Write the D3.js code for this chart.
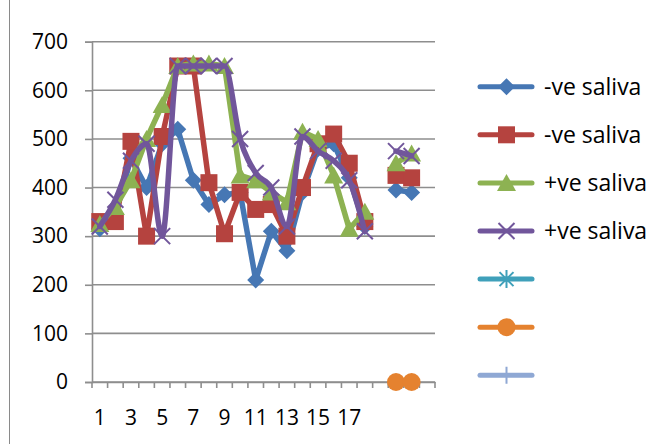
<!DOCTYPE html>
<html>
<head>
<meta charset="utf-8">
<script src="https://cdn.jsdelivr.net/npm/d3@7"></script>
<style>
  html, body { margin: 0; padding: 0; background: #fff; }
  svg { display: block; }
  text { font-family: "Open Sans", "Noto Sans", sans-serif; fill: #000; }
</style>
</head>
<body>
<svg id="chart" width="671" height="444"></svg>
<script>
// Category labels (19–22 carry no label)
const categories = ["1","2","3","4","5","6","7","8","9","10","11","12","13","14","15","16","17","18","","","",""];
const yTicks = [0, 100, 200, 300, 400, 500, 600, 700];

// Series values, one entry per category (null = no reading)
const negSalivaA = [315, 345, 460, 400, 490, 520, 415, 365, 385, 390, 210, 310, 270, 390, 480, 490, 420, 320, null, 395, 390, null];
const negSalivaB = [330, 330, 495, 300, 505, 650, 650, 410, 305, 390, 355, 365, 300, 400, 490, 510, 450, 330, null, 425, 420, null];
const posSalivaA = [325, 360, 415, 500, 570, 650, 655, 655, 650, 425, 415, 390, 370, 515, 500, 425, 315, 350, null, 450, 470, null];
const posSalivaB = [320, 375, 455, 490, 300, 650, 650, 650, 650, 500, 430, 400, 320, 505, 475, 455, 415, 310, null, 475, 465, null];
const series5 = [null, null, null, null, null, null, null, null, null, null, null, null, null, null, null, null, null, null, null, null, null, null];
const series6 = [null, null, null, null, null, null, null, null, null, null, null, null, null, null, null, null, null, null, null, 0, 0, null];
const series7 = [null, null, null, null, null, null, null, null, null, null, null, null, null, null, null, null, null, null, null, null, null, null];

const seriesNames = ["-ve saliva", "-ve saliva", "+ve saliva", "+ve saliva", "", "", ""];

const series = [
  { name: seriesNames[0], values: negSalivaA, color: "#4677b4", marker: "diamond", smooth: false },
  { name: seriesNames[1], values: negSalivaB, color: "#b5433f", marker: "square",  smooth: false },
  { name: seriesNames[2], values: posSalivaA, color: "#8db252", marker: "triangle", smooth: false },
  { name: seriesNames[3], values: posSalivaB, color: "#71569b", marker: "x",       smooth: true },
  { name: seriesNames[4], values: series5,    color: "#3fa0ba", marker: "star",    smooth: false },
  { name: seriesNames[5], values: series6,    color: "#e5822f", marker: "circle",  smooth: false },
  { name: seriesNames[6], values: series7,    color: "#8fa8d4", marker: "plus",    smooth: false }
];

const svg = d3.select("#chart");

// Chart frame
svg.append("rect")
  .attr("x", 9.5).attr("y", -10).attr("width", 700).attr("height", 470)
  .attr("fill", "none").attr("stroke", "#8a8a8a").attr("stroke-width", 1);

const plot = { left: 92, right: 435, top: 41.7, bottom: 382 };

const x = d3.scaleBand().domain(d3.range(categories.length)).range([plot.left, plot.right]).padding(0);
const y = d3.scaleLinear().domain([0, 700]).range([plot.bottom, plot.top]);
const cx = i => x(i) + x.bandwidth() / 2;

// Horizontal gridlines
svg.append("g")
  .selectAll("line")
  .data(yTicks)
  .join("line")
  .attr("x1", plot.left).attr("x2", plot.right)
  .attr("y1", d => y(d)).attr("y2", d => y(d))
  .attr("stroke", "#8e8e8e").attr("stroke-width", 1.6);

// Y axis
const yAxis = svg.append("g")
  .attr("transform", `translate(${plot.left},0)`)
  .call(d3.axisLeft(y).tickValues(yTicks).tickSize(7).tickPadding(17));
yAxis.select(".domain").attr("stroke", "#8e8e8e").attr("stroke-width", 1.6);
yAxis.selectAll(".tick line").attr("stroke", "#8e8e8e").attr("stroke-width", 1.6);
yAxis.selectAll("text").style("font-size", "21px").style("font-family", "'Open Sans', sans-serif").attr("fill", "#000");

// X axis: labels at every other category, tick marks between categories
const xAxis = svg.append("g")
  .attr("transform", `translate(0,${plot.bottom})`)
  .call(d3.axisBottom(x)
    .tickFormat(i => (i % 2 === 0 ? categories[i] : ""))
    .tickSize(0).tickPadding(28));
xAxis.select(".domain").attr("stroke", "#8e8e8e").attr("stroke-width", 1.6);
xAxis.selectAll("text").style("font-size", "21px").style("font-family", "'Open Sans', sans-serif").attr("fill", "#000");

const boundaries = d3.range(categories.length + 1).map(i => plot.left + i * x.step());
svg.append("g")
  .selectAll("line")
  .data(boundaries)
  .join("line")
  .attr("x1", d => d).attr("x2", d => d)
  .attr("y1", plot.bottom).attr("y2", plot.bottom + 6)
  .attr("stroke", "#8e8e8e").attr("stroke-width", 1.6);

// Marker drawing
function drawMarker(g, type, color) {
  switch (type) {
    case "diamond":
      g.append("path").attr("d", "M0,-8.5L8.5,0L0,8.5L-8.5,0Z").attr("fill", color);
      break;
    case "square":
      g.append("rect").attr("x", -8.5).attr("y", -8.5).attr("width", 17).attr("height", 17).attr("fill", color);
      break;
    case "triangle":
      g.append("path").attr("d", "M0,-9L9.5,8L-9.5,8Z").attr("fill", color);
      break;
    case "x":
      g.append("path").attr("d", "M-8,-8L8,8M-8,8L8,-8").attr("stroke", color).attr("stroke-width", 2).attr("fill", "none");
      break;
    case "star":
      g.append("path").attr("d", "M-7,-7L7,7M-7,7L7,-7M0,-9L0,9").attr("stroke", color).attr("stroke-width", 2).attr("fill", "none");
      break;
    case "circle":
      g.append("circle").attr("r", 9).attr("fill", color);
      break;
    case "plus":
      g.append("path").attr("d", "M0,-8.5L0,8.5M-8.5,0L8.5,0").attr("stroke", color).attr("stroke-width", 2).attr("fill", "none");
      break;
  }
}

// Series lines with markers, later series on top
series.forEach(s => {
  const g = svg.append("g");
  const pts = s.values.map((v, i) => ({ i, v }));
  const line = d3.line()
    .defined(d => d.v !== null)
    .x(d => cx(d.i))
    .y(d => y(d.v))
    .curve(s.smooth ? d3.curveMonotoneX : d3.curveLinear);
  g.append("path")
    .attr("d", line(pts))
    .attr("fill", "none")
    .attr("stroke", s.color)
    .attr("stroke-width", 5.5)
    .attr("stroke-linejoin", "round")
    .attr("stroke-linecap", "round");
  pts.filter(d => d.v !== null).forEach(d => {
    const m = g.append("g").attr("transform", `translate(${cx(d.i)},${y(d.v)})`);
    drawMarker(m, s.marker, s.color);
  });
});

// Legend
const legend = svg.append("g");
series.forEach((s, k) => {
  const ly = 86.7 + k * 48.1;
  const row = legend.append("g").attr("transform", `translate(0,${ly})`);
  row.append("line")
    .attr("x1", 480).attr("x2", 532)
    .attr("stroke", s.color).attr("stroke-width", 5).attr("stroke-linecap", "round");
  const m = row.append("g").attr("transform", "translate(506.5,0)");
  drawMarker(m, s.marker, s.color);
  row.append("text")
    .attr("x", 544).attr("y", 0).attr("dy", "0.36em")
    .style("font-size", "23px")
    .text(s.name);
});
</script>
</body>
</html>
